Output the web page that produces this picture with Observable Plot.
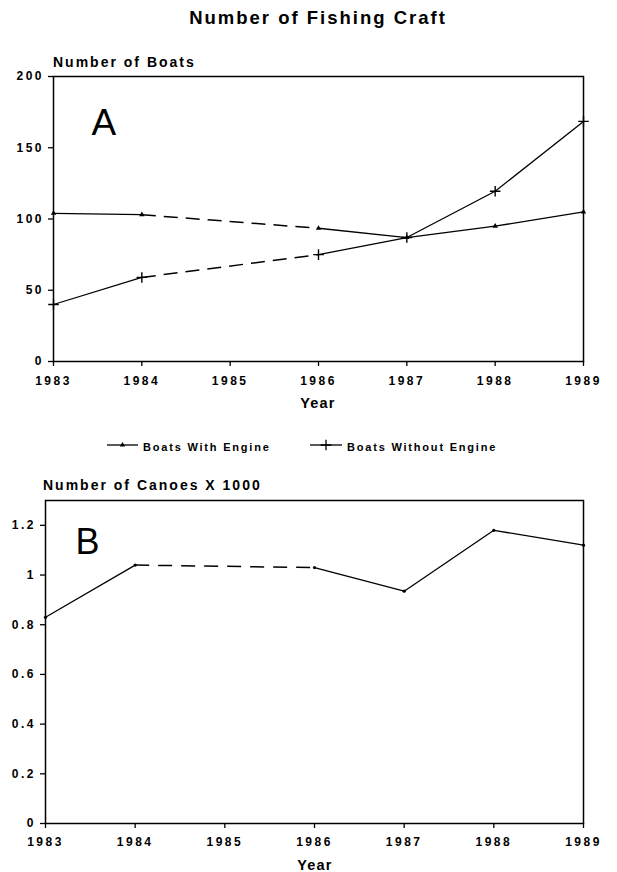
<!DOCTYPE html>
<html><head><meta charset="utf-8">
<script src="https://cdn.jsdelivr.net/npm/d3@7"></script>
<script src="https://cdn.jsdelivr.net/npm/@observablehq/plot@0.6"></script>
<style>
body{margin:0;background:#fff;}
#wrap{position:relative;width:617px;height:872px;overflow:hidden;background:#fff;}
#wrap > svg{position:absolute;left:0;}
</style></head><body><div id="wrap"></div>
<script>
// ---- data ----
const years = [1983, 1984, 1986, 1987, 1988, 1989];
const xTicks = [1983, 1984, 1985, 1986, 1987, 1988, 1989];
const boatsWithEngine = [104, 103, 93.5, 87, 95, 105];
const boatsWithoutEngine = [40, 59, 75, 87, 119.5, 168.5];
const canoes = [0.83, 1.04, 1.03, 0.935, 1.18, 1.12];
const yTicksA = [0, 50, 100, 150, 200];
const yTicksB = [0, 0.2, 0.4, 0.6, 0.8, 1, 1.2];
const seriesNames = ["Boats With Engine", "Boats Without Engine"];
const titleText = "Number of Fishing Craft";
const yLabelA = "Number of Boats";
const yLabelB = "Number of Canoes X 1000";
const xLabel = "Year";

// ---- helpers ----
const FONT = "'Liberation Sans', Arial, Helvetica, sans-serif";
function segs(values) {
  return values.slice(1).map((v, i) => ({
    x1: years[i], y1: values[i], x2: years[i + 1], y2: v,
    gap: years[i + 1] - years[i] > 1
  }));
}
function pts(values) { return years.map((x, i) => ({x, y: values[i]})); }
function lineMarks(values, dash) {
  const s = segs(values);
  return [
    Plot.link(s.filter(d => !d.gap), {x1: "x1", y1: "y1", x2: "x2", y2: "y2", stroke: "#000", strokeWidth: 1.3}),
    Plot.link(s.filter(d => d.gap), {x1: "x1", y1: "y1", x2: "x2", y2: "y2", stroke: "#000", strokeWidth: 1.5, strokeDasharray: dash})
  ];
}
const baseStyle = {fontFamily: FONT, fontWeight: "bold", fontSize: "12px", letterSpacing: "2.5px", color: "#000", background: "transparent", overflow: "visible"};
const fmtB = d => String(+d.toFixed(1));

const wrap = document.getElementById("wrap");

// ---- chart A ----
const chartA = Plot.plot({
  width: 617, height: 420,
  marginTop: 76, marginBottom: 59, marginLeft: 53, marginRight: 34,
  style: baseStyle,
  x: {domain: [1983, 1989]},
  y: {domain: [0, 200]},
  marks: [
    Plot.axisX({ticks: xTicks, tickFormat: d => String(d), tickSize: 5, tickPadding: 10, label: null, strokeWidth: 1.3}),
    Plot.axisY({ticks: yTicksA, tickFormat: d => String(d), tickSize: 5, tickPadding: 4.5, label: null, strokeWidth: 1.3}),
    Plot.frame({stroke: "#000", strokeWidth: 1.5}),
    ...lineMarks(boatsWithEngine, "14,8"),
    ...lineMarks(boatsWithoutEngine, "14,8"),
    Plot.dot(pts(boatsWithEngine), {x: "x", y: "y", symbol: "triangle", r: 2, fill: "#000"}),
    Plot.dot(pts(boatsWithoutEngine), {x: "x", y: "y", symbol: "plus", r: 3.5, stroke: "#000", strokeWidth: 1.4}),
    Plot.text(["A"], {frameAnchor: "top-left", dx: 38, dy: 32, textAnchor: "start", lineAnchor: "top", fontSize: 37, fontWeight: "normal", letterSpacing: 0})
  ]
});
chartA.style.top = "0px";
wrap.appendChild(chartA);

// ---- chart B ----
const chartB = Plot.plot({
  width: 617, height: 432,
  marginTop: 60, marginBottom: 49, marginLeft: 45, marginRight: 34,
  style: baseStyle,
  x: {domain: [1983, 1989]},
  y: {domain: [0, 1.3]},
  marks: [
    Plot.axisX({ticks: xTicks, tickFormat: d => String(d), tickSize: 5, tickPadding: 9, label: null, strokeWidth: 1.3}),
    Plot.axisY({ticks: yTicksB, tickFormat: fmtB, tickSize: 5, tickPadding: 4.5, label: null, strokeWidth: 1.3}),
    Plot.frame({stroke: "#000", strokeWidth: 1.5}),
    ...lineMarks(canoes, "14,9"),
    Plot.dot(pts(canoes), {x: "x", y: "y", r: 1.6, fill: "#000"}),
    Plot.text(["B"], {frameAnchor: "top-left", dx: 30, dy: 28, textAnchor: "start", lineAnchor: "top", fontSize: 36, fontWeight: "normal", letterSpacing: 0})
  ]
});
chartB.style.top = "440px";
wrap.appendChild(chartB);

// ---- titles, axis labels, legend ----
const ov = d3.select(wrap).append("svg")
  .attr("width", 617).attr("height", 872)
  .style("top", "0px").style("pointer-events", "none")
  .attr("font-family", FONT).attr("font-weight", "bold").attr("fill", "#000");

ov.append("text").attr("x", 318).attr("y", 24).attr("text-anchor", "middle")
  .attr("font-size", 18.5).attr("letter-spacing", 2).text(titleText);
ov.append("text").attr("x", 53).attr("y", 67).attr("font-size", 14).attr("letter-spacing", 2).text(yLabelA);
ov.append("text").attr("x", 43).attr("y", 490).attr("font-size", 14).attr("letter-spacing", 2).text(yLabelB);
ov.append("text").attr("x", 318).attr("y", 408).attr("text-anchor", "middle")
  .attr("font-size", 14.5).attr("letter-spacing", 1.2).text(xLabel);
ov.append("text").attr("x", 315).attr("y", 870).attr("text-anchor", "middle")
  .attr("font-size", 14.5).attr("letter-spacing", 1.2).text(xLabel);

// legend
const legendItems = [
  {name: seriesNames[0], x0: 107, x1: 138, sym: d3.symbolTriangle, size: 12, filled: true, tx: 143},
  {name: seriesNames[1], x0: 310, x1: 342, sym: d3.symbolPlus, size: 38, filled: false, tx: 347}
];
const ly = 445;
legendItems.forEach(it => {
  ov.append("line").attr("x1", it.x0).attr("x2", it.x1).attr("y1", ly).attr("y2", ly)
    .attr("stroke", "#000").attr("stroke-width", 1.3);
  ov.append("path").attr("d", d3.symbol(it.sym, it.size)())
    .attr("transform", `translate(${(it.x0 + it.x1) / 2},${ly})`)
    .attr("fill", it.filled ? "#000" : "none").attr("stroke", it.filled ? "none" : "#000").attr("stroke-width", 1.3);
  ov.append("text").attr("x", it.tx).attr("y", ly + 6).attr("font-size", 11).attr("letter-spacing", 1.8).text(it.name);
});
</script>
</body></html>
